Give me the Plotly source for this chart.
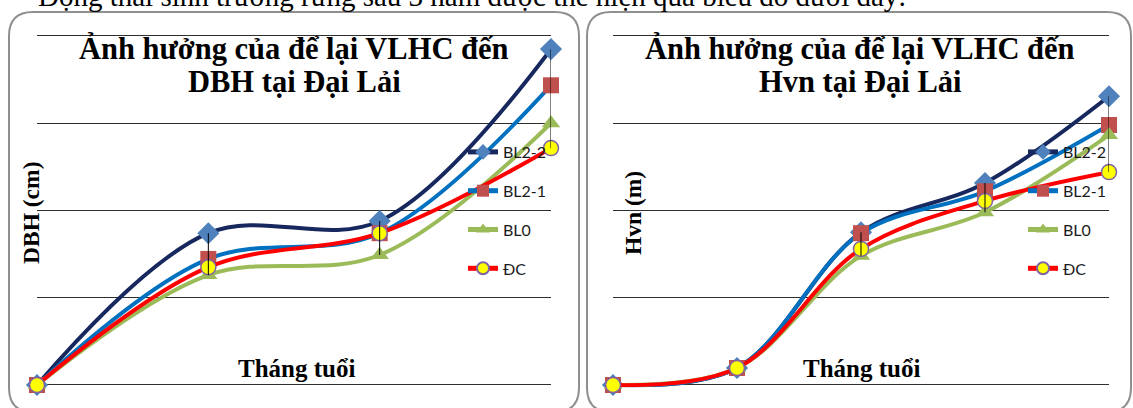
import plotly.graph_objects as go

W, H = 1133, 408

# ---- data -------------------------------------------------------------
series_names = ["BL2-2", "BL2-1", "BL0", "ĐC"]

dbh_periods = [1, 2, 3, 4]
dbh_bl22 = [0.0, 3.48, 3.76, 7.70]
dbh_bl21 = [0.0, 2.89, 3.48, 6.87]
dbh_bl0 = [0.0, 2.52, 2.98, 6.00]
dbh_dc = [0.0, 2.70, 3.48, 5.43]

hvn_periods = [1, 2, 3, 4, 5]
hvn_bl22 = [0.0, 0.39, 3.50, 4.63, 6.62]
hvn_bl21 = [0.0, 0.39, 3.48, 4.44, 5.96]
hvn_bl0 = [0.0, 0.39, 2.96, 3.96, 5.73]
hvn_dc = [0.0, 0.39, 3.12, 4.22, 4.88]

y_gridlines = [0, 2, 4, 6, 8]

# ---- styles -----------------------------------------------------------
styles = {
    "BL2-2": dict(line="#17285E", symbol="diamond", fill="#4F81BD", edge="#4F81BD", size=17),
    "BL2-1": dict(line="#0070C0", symbol="square", fill="#C0504D", edge="#C0504D", size=16),
    "BL0": dict(line="#9BBB59", symbol="triangle-up", fill="#9BBB59", edge="#9BBB59", size=16),
    "ĐC": dict(line="#FF0000", symbol="circle", fill="#FFFF00", edge="#8064A2", size=15),
}


def px_x(v):
    return v / W


def px_y(v):
    return 1 - v / H


fig = go.Figure()


def add_panel(periods, values, xa, ya, legend, tag):
    for name, ys in zip(series_names, values):
        st = styles[name]
        fig.add_trace(go.Scatter(
            x=periods, y=ys, name=name, mode="lines+markers",
            xaxis=xa, yaxis=ya, legend=legend, legendgroup=tag + name,
            line=dict(color=st["line"], width=4, shape="spline", smoothing=1.0),
            marker=dict(symbol=st["symbol"], size=st["size"], color=st["fill"],
                        line=dict(color=st["edge"], width=1.5 if name == "ĐC" else 0)),
            cliponaxis=False,
        ))
    # high-low lines joining the extreme values of each period
    hx, hy = [], []
    for i, p in enumerate(periods[1:], start=1):
        col = [v[i] for v in values]
        hx += [p, p, None]
        hy += [min(col), max(col), None]
    fig.add_trace(go.Scatter(
        x=hx, y=hy, mode="lines", xaxis=xa, yaxis=ya, showlegend=False,
        line=dict(color="#000000", width=1), hoverinfo="skip", cliponaxis=False,
    ))


add_panel(dbh_periods, [dbh_bl22, dbh_bl21, dbh_bl0, dbh_dc], "x", "y", "legend", "d")
add_panel(hvn_periods, [hvn_bl22, hvn_bl21, hvn_bl0, hvn_dc], "x2", "y2", "legend2", "h")

# value axis: 0 sits at y=385 px, 8 at y=36 px; a small pad keeps the edge gridlines
pad = 0.05
unit_px = (385 - 36) / 8
ydom = [px_y(385 + pad * unit_px), px_y(36 - pad * unit_px)]
yrange = [-pad, 8 + pad]
axis_common = dict(showticklabels=False, ticks="", zeroline=False, showline=False)
fig.update_layout(
    xaxis=dict(domain=[px_x(37), px_x(551)], range=[1, 4], showgrid=False, **axis_common),
    yaxis=dict(domain=ydom, range=yrange, tickvals=y_gridlines, showgrid=True,
               gridcolor="#2e2e2e", gridwidth=1, **axis_common),
    xaxis2=dict(domain=[px_x(613), px_x(1109)], range=[1, 5], showgrid=False, **axis_common),
    yaxis2=dict(domain=ydom, range=yrange, tickvals=y_gridlines, showgrid=True,
                gridcolor="#2e2e2e", gridwidth=1, **axis_common),
)

legend_common = dict(
    bgcolor="rgba(0,0,0,0)", font=dict(family="Lato", size=16, color="#1a1a1a"),
    tracegroupgap=15, itemsizing="constant", traceorder="grouped",
    xanchor="left", yanchor="top", borderwidth=0,
)
fig.update_layout(
    legend=dict(x=px_x(463), y=px_y(135), **legend_common),
    legend2=dict(x=px_x(1023), y=px_y(135), **legend_common),
)


# ---- rounded frames ---------------------------------------------------
def rounded_box(x0, y0, x1, y1, r):
    pts = [
        f"M {px_x(x0 + r)},{px_y(y0)}",
        f"L {px_x(x1 - r)},{px_y(y0)}",
        f"Q {px_x(x1)},{px_y(y0)} {px_x(x1)},{px_y(y0 + r)}",
        f"L {px_x(x1)},{px_y(y1 - r)}",
        f"Q {px_x(x1)},{px_y(y1)} {px_x(x1 - r)},{px_y(y1)}",
        f"L {px_x(x0 + r)},{px_y(y1)}",
        f"Q {px_x(x0)},{px_y(y1)} {px_x(x0)},{px_y(y1 - r)}",
        f"L {px_x(x0)},{px_y(y0 + r)}",
        f"Q {px_x(x0)},{px_y(y0)} {px_x(x0 + r)},{px_y(y0)}",
        "Z",
    ]
    return dict(type="path", path=" ".join(pts), xref="paper", yref="paper",
                line=dict(color="#8f8f8f", width=2), layer="below")


fig.update_layout(shapes=[
    rounded_box(9, 12, 579, 412, 24),
    rounded_box(587, 12, 1131, 412, 24),
])

# ---- text -------------------------------------------------------------
serif = "Liberation Serif"
ann = []
ann.append(dict(text="Động thái sinh trưởng rừng sau 3 năm được thể hiện qua biểu đồ dưới đây:",
                x=px_x(36), y=px_y(14.5), xanchor="left", yanchor="bottom",
                font=dict(family=serif, size=29, color="#000")))
for cx, line2, ylab, ylab_x in [(294, "DBH tại Đại Lải", "DBH (cm)", 31),
                                (860, "Hvn tại Đại Lải", "Hvn (m)", 633)]:
    ann.append(dict(text="<b>Ảnh hưởng của để lại VLHC đến</b>", x=px_x(cx), y=px_y(48),
                    xanchor="center", yanchor="middle",
                    font=dict(family=serif, size=30.5, color="#000")))
    ann.append(dict(text=f"<b>{line2}</b>", x=px_x(cx), y=px_y(82),
                    xanchor="center", yanchor="middle",
                    font=dict(family=serif, size=30.5, color="#000")))
    ann.append(dict(text=f"<b>{ylab}</b>", x=px_x(ylab_x), y=px_y(213), textangle=-90,
                    xanchor="center", yanchor="middle",
                    font=dict(family=serif, size=23.5, color="#000")))
for cx in (296, 861):
    ann.append(dict(text="<b>Tháng tuổi</b>", x=px_x(cx), y=px_y(368),
                    xanchor="center", yanchor="middle",
                    font=dict(family=serif, size=25, color="#000")))
for a in ann:
    a.update(xref="paper", yref="paper", showarrow=False)

fig.update_layout(
    annotations=ann,
    width=W, height=H, margin=dict(l=0, r=0, t=0, b=0),
    paper_bgcolor="white", plot_bgcolor="rgba(0,0,0,0)",
)

fig.write_html("out.html")
